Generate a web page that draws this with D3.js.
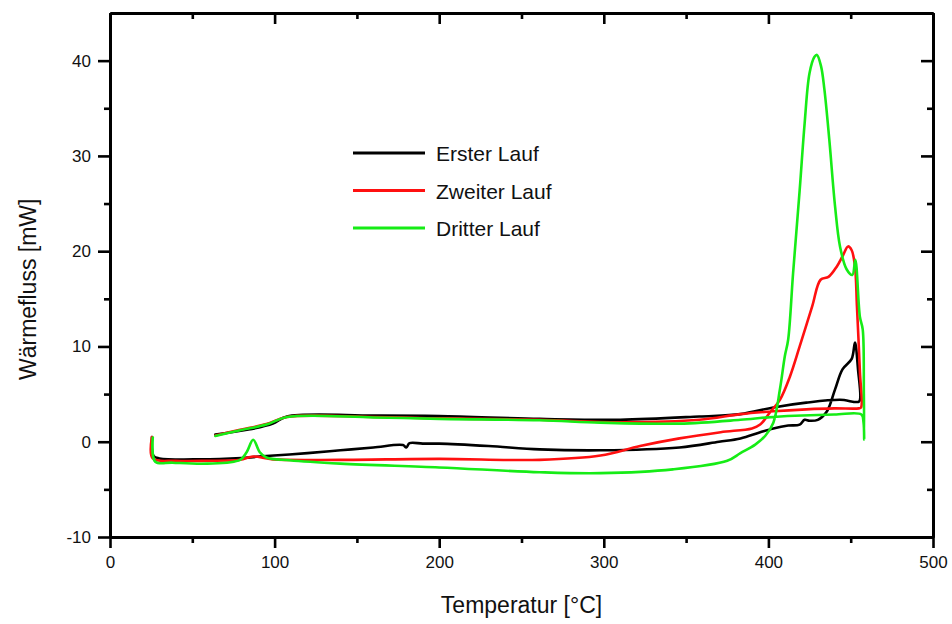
<!DOCTYPE html>
<html>
<head>
<meta charset="utf-8">
<script src="https://cdn.jsdelivr.net/npm/d3@7"></script>
<style>
  body { margin: 0; background: #fff; overflow: hidden; }
  svg { display: block; }
</style>
</head>
<body>
<div id="chart"></div>
<script>
const width = 952;
const height = 624;
const margin = { top: 13, right: 19, bottom: 87, left: 110 };
const innerWidth = width - margin.left - margin.right;
const innerHeight = height - margin.top - margin.bottom;

const seriesLabels = ["Erster Lauf", "Zweiter Lauf", "Dritter Lauf"];
const seriesColors = ["#000000", "#ff1010", "#16ec16"];

// [Temperatur °C, Wärmefluss mW]: heating then cooling
const ersterLauf = [
    [25.5, 0.5], [26.5, -1.5], [30, -1.75], [55, -1.85], [80, -1.7], [95, -1.5],
    [120, -1.2], [140, -0.9], [160, -0.6], [178, -0.35], [180, -0.6], [182, -0.15],
    [190, -0.2], [200, -0.2], [230, -0.45], [261, -0.8], [298, -0.9], [346, -0.6],
    [370, 0], [383, 0.35], [395, 1.0], [403, 1.4], [412, 1.7], [419, 1.8],
    [422, 2.3], [425, 2.2], [430, 2.3], [435.6, 3.2], [440.5, 5.5], [445, 7.6],
    [450.6, 8.7], [452.6, 10.4], [454.5, 7.5], [455.8, 4.6], [455, 4.2],
    [443.5, 4.4], [423, 4.1], [403, 3.6], [383, 2.9], [358, 2.65], [310, 2.3],
    [261, 2.4], [200, 2.7], [160, 2.75], [107.5, 2.65], [99, 1.9], [85, 1.3], [64, 0.75]
];
const zweiterLauf = [
    [25.5, 0.5], [26, -1.75], [40, -2.0], [59, -2.0], [79, -1.9], [87, -1.55],
    [99, -1.85], [140, -1.9], [200, -1.8], [261, -1.9], [298, -1.45], [322, -0.45],
    [346, 0.35], [371, 1.0], [390, 1.4], [395, 1.8], [401, 3.1], [407, 4.4],
    [413, 6.8], [419, 10.0], [426.6, 14.2], [431.7, 17.0], [436.5, 17.3],
    [441.6, 18.4], [445.4, 19.6], [448.4, 20.5], [450.6, 20.1], [452.6, 18.4],
    [453.8, 14.2], [455.6, 7.3], [456.3, 3.6], [455, 3.5], [440, 3.5], [423, 3.4],
    [403, 3.2], [383, 2.9], [358, 2.3], [310, 2.05], [261, 2.3], [200, 2.45],
    [160, 2.6], [107.5, 2.6], [95, 1.85], [79, 1.25], [64, 0.65]
];
const dritterLauf = [
    [26, 0.45], [27.5, -2.1], [38, -2.2], [59, -2.3], [79, -1.9], [83, -1.1],
    [87, 0.2], [91, -1.1], [95, -1.65], [109, -1.95], [140, -2.3], [200, -2.7],
    [261, -3.2], [298, -3.3], [342, -2.9], [375, -2.0], [383, -1.2], [392, -0.3],
    [398, 0.6], [403, 2.0], [407, 5.5], [410, 9.0], [412, 10.7], [415, 17.7],
    [419, 26.4], [422, 33.4], [425, 38.7], [428, 40.4], [429.5, 40.6], [432, 39.4],
    [434, 37.0], [437, 31.7], [440.5, 24.7], [443.5, 20.5], [447.5, 18.1],
    [451, 17.5], [452.8, 19.1], [455.6, 13.1], [457.3, 11.8], [458, 5.0],
    [458.2, 0.2], [457.8, 2.0], [456.5, 2.85], [440, 2.85], [403, 2.6], [383, 2.3],
    [346, 1.9], [298, 2.0], [261, 2.25], [200, 2.4], [160, 2.55], [107.5, 2.6],
    [95, 1.8], [79, 1.2], [64, 0.6]
];

const xMajor = [0, 100, 200, 300, 400, 500];
const xMinor = [50, 150, 250, 350, 450];
const yMajor = [-10, 0, 10, 20, 30, 40];
const yMinor = [-5, 5, 15, 25, 35];

const seriesList = [ersterLauf, zweiterLauf, dritterLauf].map((values, i) => ({
    label: seriesLabels[i],
    color: seriesColors[i],
    values
}));

const xScale = d3.scaleLinear().domain([0, 500]).range([0, innerWidth]);
const yScale = d3.scaleLinear().domain([-10, 45]).range([innerHeight, 0]);

const svg = d3.select("#chart").append("svg")
    .attr("width", width)
    .attr("height", height)
    .attr("viewBox", `0 0 ${width} ${height}`);

const group = svg.append("g")
    .attr("transform", `translate(${margin.left}, ${margin.top})`);

const font = "'Liberation Sans', Arial, sans-serif";
const plainNumber = d => String(d);

const lineGenerator = d3.line()
    .x(d => xScale(d[0]))
    .y(d => yScale(d[1]))
    .curve(d3.curveCatmullRom.alpha(0.5));

group.append("g")
    .selectAll("path")
    .data(seriesList)
    .join("path")
    .attr("fill", "none")
    .attr("stroke", d => d.color)
    .attr("stroke-width", 2.6)
    .attr("stroke-linejoin", "round")
    .attr("stroke-linecap", "round")
    .attr("d", d => lineGenerator(d.values));

// frame axes: labelled ones keep text, the rest drop their empty labels
function styleAxis(g, labelled) {
    g.attr("font-family", font).attr("font-size", 17);
    g.select(".domain").attr("stroke", "#000").attr("stroke-width", 3);
    g.selectAll(".tick line").attr("stroke", "#000").attr("stroke-width", 2.6);
    if (labelled) {
        g.selectAll(".tick text").attr("fill", "#111");
    } else {
        g.selectAll(".tick text").remove();
    }
}

group.append("g")
    .attr("transform", `translate(0, ${innerHeight})`)
    .call(d3.axisBottom(xScale).tickValues(xMajor).tickSize(11).tickPadding(8).tickSizeOuter(0).tickFormat(plainNumber))
    .call(g => styleAxis(g, true));
group.append("g")
    .attr("transform", `translate(0, ${innerHeight})`)
    .call(d3.axisBottom(xScale).tickValues(xMinor).tickSize(6).tickSizeOuter(0))
    .call(g => styleAxis(g, false));

group.append("g")
    .call(d3.axisTop(xScale).tickValues(xMajor).tickSize(-11).tickSizeOuter(0))
    .call(g => styleAxis(g, false));
group.append("g")
    .call(d3.axisTop(xScale).tickValues(xMinor).tickSize(-6).tickSizeOuter(0))
    .call(g => styleAxis(g, false));

group.append("g")
    .call(d3.axisLeft(yScale).tickValues(yMajor).tickSize(12).tickPadding(7).tickSizeOuter(0).tickFormat(plainNumber))
    .call(g => styleAxis(g, true));
group.append("g")
    .call(d3.axisLeft(yScale).tickValues(yMinor).tickSize(6).tickSizeOuter(0))
    .call(g => styleAxis(g, false));

group.append("g")
    .attr("transform", `translate(${innerWidth}, 0)`)
    .call(d3.axisRight(yScale).tickValues(yMajor).tickSize(-12).tickSizeOuter(0))
    .call(g => styleAxis(g, false));
group.append("g")
    .attr("transform", `translate(${innerWidth}, 0)`)
    .call(d3.axisRight(yScale).tickValues(yMinor).tickSize(-6).tickSizeOuter(0))
    .call(g => styleAxis(g, false));

// axis titles
svg.append("text")
    .attr("x", margin.left + innerWidth / 2)
    .attr("y", 613)
    .attr("text-anchor", "middle")
    .attr("fill", "#111")
    .attr("font-family", font)
    .attr("font-size", 23)
    .text("Temperatur [°C]");

svg.append("text")
    .attr("transform", `translate(36, ${margin.top + yScale(16)}) rotate(-90)`)
    .attr("text-anchor", "middle")
    .attr("fill", "#111")
    .attr("font-family", font)
    .attr("font-size", 23)
    .text("Wärmefluss [mW]");

// legend
const legend = svg.append("g")
    .attr("transform", "translate(353, 153)");
const legendItems = legend.selectAll("g")
    .data(seriesList)
    .join("g")
    .attr("transform", (d, i) => `translate(0, ${i * 37.5})`);
legendItems.append("line")
    .attr("x1", 0)
    .attr("x2", 72)
    .attr("stroke", d => d.color)
    .attr("stroke-width", 2.8);
legendItems.append("text")
    .attr("x", 83)
    .attr("y", 8)
    .attr("fill", "#111")
    .attr("font-family", font)
    .attr("font-size", 21)
    .text(d => d.label);
</script>
</body>
</html>
